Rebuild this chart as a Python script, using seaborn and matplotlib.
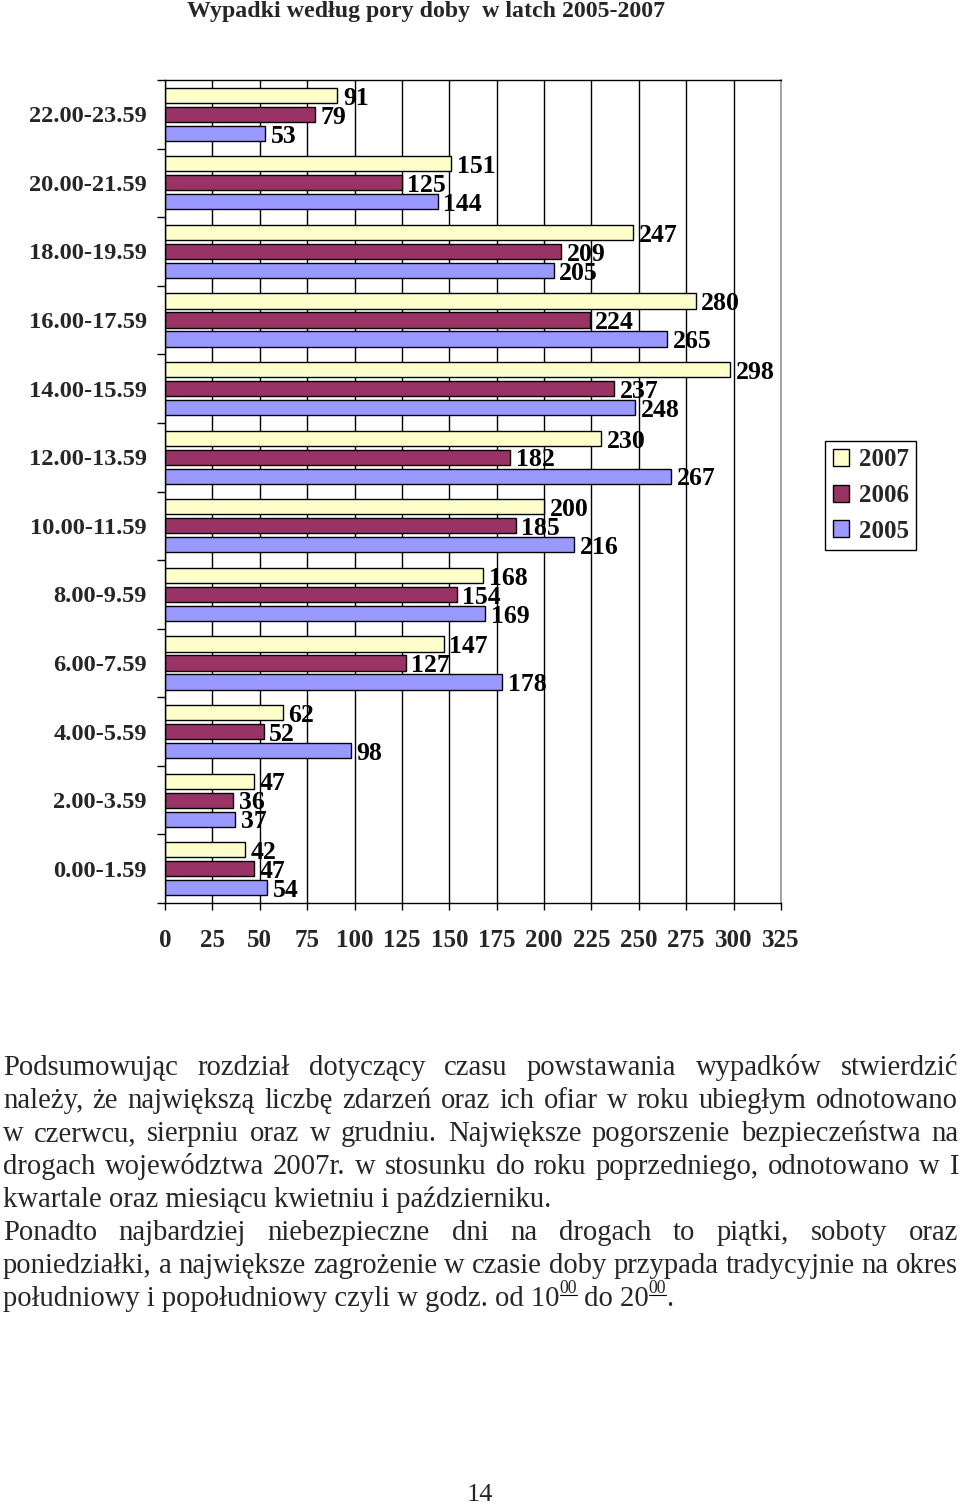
import matplotlib
matplotlib.use("Agg")
import matplotlib.pyplot as plt
import seaborn as sns
import pandas as pd
from matplotlib.patches import Patch
from matplotlib.lines import Line2D

# dane z wykresu (od gory do dolu)
hours = ["22.00-23.59", "20.00-21.59", "18.00-19.59", "16.00-17.59",
         "14.00-15.59", "12.00-13.59", "10.00-11.59", "8.00-9.59",
         "6.00-7.59", "4.00-5.59", "2.00-3.59", "0.00-1.59"]
years = ["2007", "2006", "2005"]
y2007 = [91, 151, 247, 280, 298, 230, 200, 168, 147, 62, 47, 42]
y2006 = [79, 125, 209, 224, 237, 182, 185, 154, 127, 52, 36, 47]
y2005 = [53, 144, 205, 265, 248, 267, 216, 169, 178, 98, 37, 54]
colors = {"2007": "#FFFFCC", "2006": "#993366", "2005": "#9999FF"}

title = "Wypadki według pory doby  w latch 2005-2007"
par_lines = [
    ("Podsumowując rozdział dotyczący czasu powstawania wypadków stwierdzić", True),
    ("należy, że największą liczbę zdarzeń oraz ich ofiar w roku ubiegłym odnotowano", True),
    ("w czerwcu, sierpniu oraz w grudniu. Największe pogorszenie bezpieczeństwa na", True),
    ("drogach województwa 2007r. w stosunku do roku poprzedniego, odnotowano w I", True),
    ("kwartale oraz miesiącu kwietniu i październiku.", False),
    ("Ponadto najbardziej niebezpieczne dni na drogach to piątki, soboty oraz", True),
    ("poniedziałki, a największe zagrożenie w czasie doby przypada tradycyjnie na okres", True),
]
last_line = ["południowy i popołudniowy czyli w godz. od 10", "^00", " do 20", "^00", "."]
page_no = "14"

df = pd.DataFrame({
    "pora": hours * 3,
    "rok": ["2007"] * 12 + ["2006"] * 12 + ["2005"] * 12,
    "liczba": y2007 + y2006 + y2005,
})

sns.set_theme(style="white")
plt.rcParams["font.family"] = ["Liberation Serif", "DejaVu Serif"]

W, H = 960, 1507
fig = plt.figure(figsize=(9.6, 15.07), dpi=100)


def fx(px):
    return px / W


def fy(py):
    return 1 - py / H


ax = fig.add_axes([fx(165), fy(903), (781 - 165) / W, (903 - 80) / H])
sns.barplot(data=df, y="pora", x="liczba", hue="rok", hue_order=years, order=hours,
            palette=colors, orient="h", width=0.83, gap=0.2, saturation=1,
            edgecolor="black", linewidth=1, legend=False, ax=ax)

for cont in ax.containers:
    anns = ax.bar_label(cont, padding=4, fontsize=18.5, fontweight="bold", color="black")
    for a in anns:
        a.xyann = (4, -2)

ax.set_xlim(0, 325)
ax.set_xticks(range(0, 326, 25))
ax.set_xlabel("")
ax.set_ylabel("")
ax.grid(axis="x", color="black", lw=1)
ax.set_axisbelow(True)
ax.set_yticks([i - 0.5 for i in range(13)], minor=True)
ax.tick_params(axis="y", which="major", length=0, pad=13, labelsize=17.6)
ax.tick_params(axis="y", which="minor", left=True, length=6, width=1, color="black", direction="out")
ax.tick_params(axis="x", which="major", bottom=True, length=5, width=1, color="black",
               direction="out", pad=14, labelsize=18)
for lab in ax.get_xticklabels() + ax.get_yticklabels():
    lab.set_fontweight("bold")
for side in ["left", "bottom", "top"]:
    ax.spines[side].set_color("black")
    ax.spines[side].set_linewidth(1)
ax.spines["right"].set_color("#999999")

handles = [Patch(facecolor=colors[y], edgecolor="black", lw=1) for y in years]
leg = fig.legend(handles, years, loc="upper left", bbox_to_anchor=(fx(825), fy(441)),
                 prop={"size": 18, "weight": "bold"}, frameon=True, fancybox=False,
                 framealpha=1, edgecolor="black", handlelength=0.65, handleheight=0.65,
                 handletextpad=0.4, labelspacing=0.5, borderpad=0.3, borderaxespad=0)
leg.get_frame().set_linewidth(1)

fig.text(fx(426), fy(11), title, ha="center", va="center", fontsize=17.2, fontweight="bold")

# akapit tekstu, wyjustowany
renderer = fig.canvas.get_renderer()


def text_width(s, size):
    t = fig.text(0, 0, s, fontsize=size)
    w = t.get_window_extent(renderer).width
    t.remove()
    return w


size = 20 * 550 / text_width(par_lines[4][0], 20)
x0, x1 = 3, 958
base0 = 1075
step = 33

for i, (line, justify) in enumerate(par_lines):
    yb = fy(base0 + step * i)
    if not justify:
        fig.text(fx(x0), yb, line, fontsize=size, va="baseline", ha="left")
        continue
    words = line.split()
    widths = [text_width(w_, size) for w_ in words]
    gap = (x1 - x0 - sum(widths)) / (len(words) - 1)
    x = x0
    for w_, wd in zip(words, widths):
        fig.text(fx(x), yb, w_, fontsize=size, va="baseline", ha="left")
        x += wd + gap

yb_px = base0 + step * 7
x = x0
for piece in last_line:
    if piece.startswith("^"):
        s = piece[1:]
        ssize = size * 0.62
        wd = text_width(s, ssize)
        rise = size * 0.45 * 100 / 72
        fig.text(fx(x), fy(yb_px - rise), s, fontsize=ssize, va="baseline", ha="left")
        fig.add_artist(Line2D([fx(x), fx(x + wd)], [fy(yb_px - rise + 2)] * 2,
                              color="black", lw=0.8, transform=fig.transFigure))
        x += wd
    else:
        wd = text_width(piece.replace(" ", "\u00a0"), size)
        fig.text(fx(x), fy(yb_px), piece, fontsize=size, va="baseline", ha="left")
        x += wd

fig.text(fx(480), fy(1495), page_no, ha="center", va="center", fontsize=19)

fig.savefig("out.png", dpi=100, facecolor="white")
